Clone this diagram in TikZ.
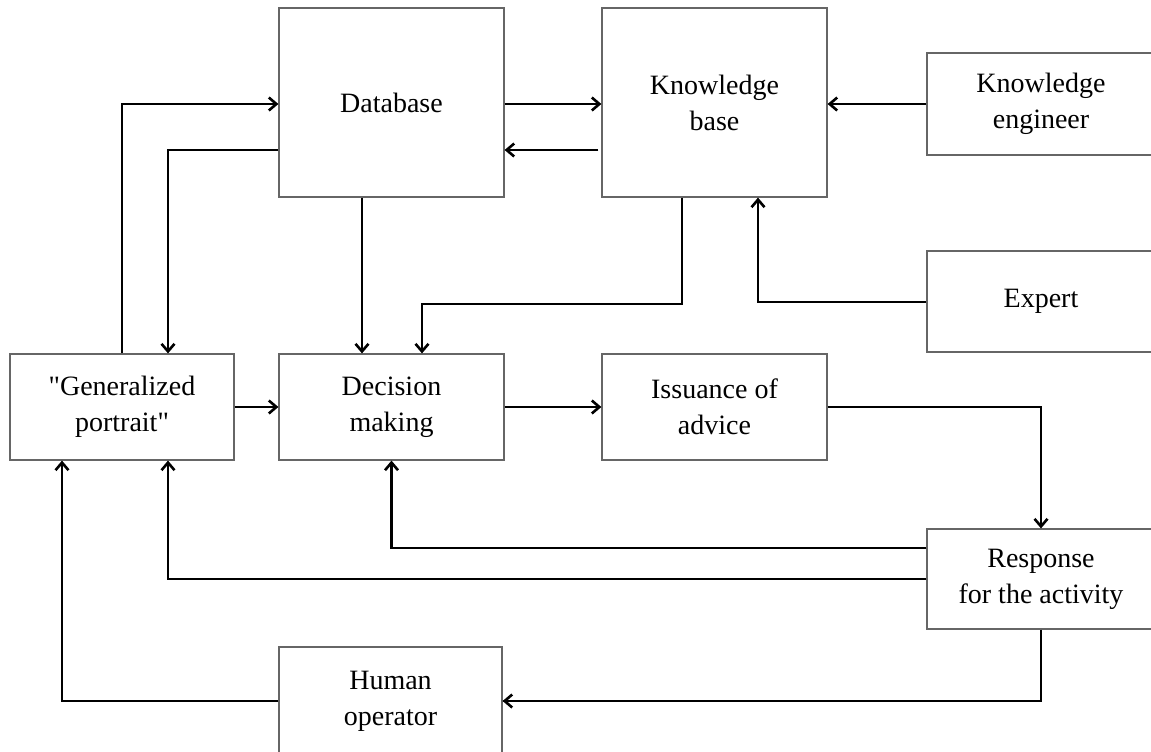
\documentclass[tikz,border=0pt]{standalone}
\usepackage{fontspec}
\setmainfont{Liberation Serif}[Ligatures=TeXOff]
\usetikzlibrary{arrows.meta}
\begin{document}
\begin{tikzpicture}[x=0.5pt,y=-0.5pt,
  box/.style={draw=black!60, line width=0.6pt, align=center, inner sep=0pt,
    font=\fontsize{14}{18}\selectfont},
  wide/.style={box, minimum width=112.5pt},
  arr/.style={line width=1.3pt, line join=miter, -{Straight Barb[length=3.8pt,width=6.5pt,line width=1.3pt]}},
  ln/.style={line width=1.3pt}]
\useasboundingbox (0,0) rectangle (1151,751);
\clip (0,0) rectangle (1151,751);
% nodes
\node[wide, minimum height=94.5pt] (db) at (391.5,102.5) {Database};
\node[wide, minimum height=94.5pt] (kb) at (714.5,102.5) {Knowledge\\base};
\node[box, minimum width=114pt, minimum height=51pt] (ke) at (1041,104) {Knowledge\\engineer};
\node[box, minimum width=114pt, minimum height=50.5pt] (ex) at (1041,301.5) {Expert};
\node[box, minimum width=112pt, minimum height=53pt] (gp) at (122,407) {"Generalized\\portrait"};
\node[wide, minimum height=53pt] (dm) at (391.5,407) {Decision\\making};
\node[wide, minimum height=53pt] (ia) at (714.5,407) {Issuance of\\advice};
\node[box, minimum width=114pt, minimum height=50pt] (rs) at (1041,579) {Response\\for the activity};
\node[box, minimum width=111.5pt, minimum height=54pt] (ho) at (390.5,701) {Human\\operator};
% helper coordinates
\coordinate (y104) at (0,104);
\coordinate (y150) at (0,150);
\coordinate (y302) at (0,302);
\coordinate (y304) at (0,304);
\coordinate (y548) at (0,548);
\coordinate (x62) at (62,0);
\coordinate (x168) at (168,0);
\coordinate (x362) at (362,0);
\coordinate (x422) at (422,0);
\coordinate (x682) at (682,0);
\coordinate (x758) at (758,0);
% connectors
\draw[arr] (gp.north) |- (db.west |- y104);
\draw[arr] (db.west |- y150) -| (gp.north -| x168);
\draw[arr] (db.east |- y104) -- (kb.west |- y104);
\draw[arr] ([xshift=-1.5pt]kb.west |- y150) -- (db.east |- y150);
\draw[arr] (ke.west |- y104) -- (kb.east |- y104);
\draw[arr] (ex.west |- y302) -| (kb.south -| x758);
\draw[arr] (kb.south -| x682) |- (y304 -| x422) -- (dm.north -| x422);
\draw[arr] (db.south -| x362) -- (dm.north -| x362);
\draw[arr] (gp.east) -- (dm.west);
\draw[arr] (dm.east) -- (ia.west);
\draw[arr] (ia.east) -| (rs.north);
\draw[arr] (rs.west |- y548) -| (dm.south);
\draw[arr] (rs.west) -| (gp.south -| x168);
\draw[ln] (rs.south) |- (ho.east);
\draw[arr] (rs.south |- ho.east) -- (ho.east);
\draw[arr] (ho.west) -| (gp.south -| x62);
\end{tikzpicture}
\end{document}
